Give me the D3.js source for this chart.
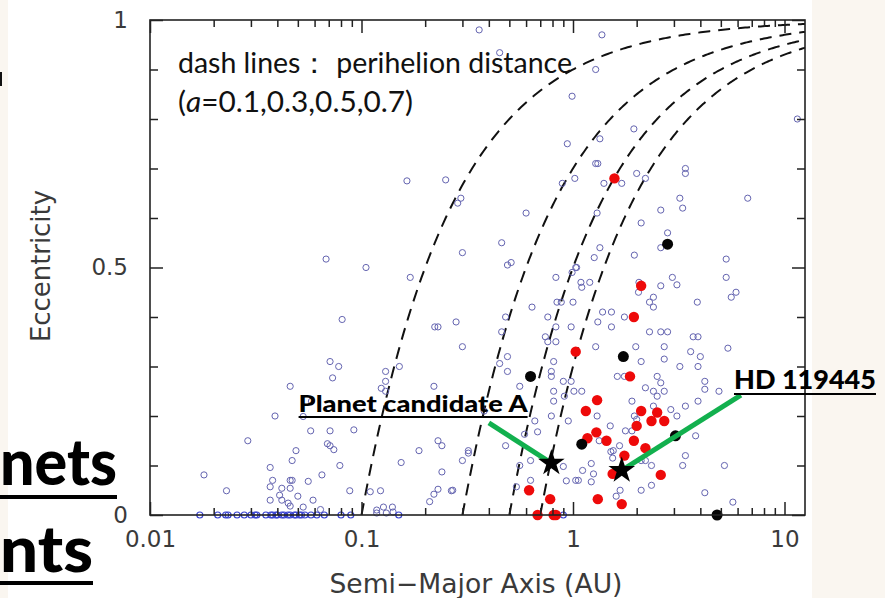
<!DOCTYPE html>
<html>
<head>
<meta charset="utf-8">
<script src="https://cdn.jsdelivr.net/npm/d3@7"></script>
<style>
  body { margin: 0; background: #fff; }
  svg { display: block; }
</style>
</head>
<body>
<div id="chart"></div>
<script>
// ---- data (semi-major axis a in AU, eccentricity e) ----
var blueOpen = [
  [0.105,0.50],[0.081,0.395],[0.071,0.31],[0.078,0.30],[0.073,0.277],[0.046,0.26],[0.039,0.20],[0.058,0.23],[0.053,0.199],[0.0575,0.17],
  [0.071,0.17],[0.092,0.172],[0.029,0.15],[0.069,0.144],[0.071,0.14],[0.074,0.132],[0.049,0.13],[0.047,0.11],[0.079,0.10],[0.037,0.096],
  [0.018,0.081],[0.065,0.081],[0.038,0.07],[0.046,0.07],[0.047,0.07],[0.056,0.068],[0.037,0.057],[0.042,0.054],[0.046,0.054],[0.023,0.049],
  [0.088,0.049],[0.041,0.04],[0.050,0.038],[0.037,0.03],[0.042,0.03],[0.059,0.03],[0.045,0.024],[0.046,0.018],[0.053,0.016],[0.064,0.011],
  [0.11,0.047],[0.123,0.049],[0.154,0.106],[0.187,0.13],[0.22,0.26],[0.222,0.38],[0.23,0.38],[0.13,0.29],[0.13,0.27],[0.124,0.256],
  [0.13,0.25],[0.151,0.30],[0.23,0.15],[0.24,0.14],[0.24,0.087],[0.23,0.052],[0.22,0.042],[0.21,0.027],[0.266,0.049],
  [0.118,0.01],[0.127,0.016],[0.14,0.016],[0.141,0.006],[0.118,0.004],[0.131,0.004],
  [0.17,0.48],[0.28,0.39],[0.30,0.34],[0.48,0.40],[0.46,0.37],[0.49,0.32],[0.45,0.306],[0.49,0.29],[0.64,0.42],[0.76,0.40],
  [0.84,0.43],[0.88,0.43],[0.83,0.48],[1.09,0.47],[1.1,0.46],[1.0,0.43],[0.83,0.38],[0.98,0.38],[0.74,0.36],[0.76,0.35],
  [0.83,0.35],[0.81,0.31],[0.79,0.29],[0.79,0.28],[0.90,0.27],[0.98,0.27],[0.56,0.26],[0.81,0.25],[0.91,0.24],[1.01,0.25],
  [1.1,0.25],[0.81,0.23],[0.79,0.20],[0.95,0.19],[0.66,0.19],[0.68,0.168],[0.59,0.163],[0.38,0.21],[0.32,0.13],[0.32,0.125],
  [0.30,0.11],[0.48,0.14],[0.63,0.11],[0.56,0.10],[0.90,0.098],[0.93,0.069],[1.03,0.07],[1.06,0.07],[1.11,0.09],[0.63,0.07],
  [0.54,0.057],[0.27,0.05],
  [0.36,0.98],[0.45,0.934],[0.99,0.846],[0.94,0.75],[1.02,0.68],[0.89,0.67],[0.60,0.61],[0.46,0.55],[0.30,0.53],[0.51,0.51],
  [0.49,0.505],[1.04,0.50],[0.164,0.675],[0.25,0.677],[0.295,0.64],[0.285,0.63],[0.068,0.517],
  [1.37,0.97],[1.28,0.90],[11.5,0.80],[1.94,0.78],[1.34,0.76],[1.28,0.71],[1.31,0.71],[1.40,0.67],[1.70,0.67],
  [2.0,0.69],[2.2,0.68],[3.4,0.70],[3.4,0.69],[6.7,0.64],[1.30,0.61],[2.6,0.616],[3.2,0.64],[3.3,0.62],[2.1,0.59],
  [2.8,0.57],[2.6,0.54],[1.34,0.54],[1.26,0.52],[1.95,0.525],[5.3,0.517],[1.03,0.50],[0.99,0.49],[1.2,0.47],[2.04,0.45],
  [2.05,0.47],[2.6,0.463],[3.1,0.465],[2.95,0.48],[2.3,0.43],[2.4,0.44],[2.4,0.42],[3.87,0.43],[5.3,0.48],[5.9,0.45],
  [5.6,0.44],[1.38,0.41],[1.52,0.41],[1.75,0.40],[1.31,0.39],[1.52,0.38],[1.28,0.34],[2.3,0.37],[2.6,0.37],[2.8,0.37],
  [1.98,0.34],[2.7,0.34],[3.7,0.36],[3.9,0.36],[5.4,0.337],[3.6,0.33],[4.0,0.32],[3.9,0.30],[2.1,0.31],[2.7,0.315],
  [3.2,0.30],[1.62,0.28],[1.75,0.28],[2.5,0.28],[2.6,0.267],[2.7,0.25],[2.4,0.25],[2.5,0.24],[2.2,0.257],[4.2,0.27],
  [4.2,0.254],[4.9,0.25],[3.9,0.23],[3.4,0.22],[2.9,0.213],[3.1,0.20],[1.9,0.23],[2.4,0.22],[1.30,0.20],[1.95,0.20],
  [2.0,0.193],[1.5,0.18],[1.77,0.17],[1.9,0.17],[1.33,0.15],[1.66,0.14],[1.55,0.13],[1.51,0.128],[1.54,0.115],[2.1,0.11],
  [2.2,0.11],[2.35,0.10],[3.4,0.12],[3.3,0.10],[5.2,0.10],[1.22,0.104],[1.25,0.083],[1.22,0.067],[1.67,0.05],[1.60,0.038],
  [2.1,0.05],[2.35,0.06],[4.2,0.045],[5.7,0.026],[3.8,0.16]
];

// circular orbits (e = 0), plotted along the bottom
var blueFlat = [0.0172,0.0209,0.0228,0.0234,0.0258,0.0279,0.030,0.0314,0.032,0.0353,0.0373,0.038,0.0394,0.040,0.042,
  0.043,0.0449,0.046,0.0482,0.049,0.0509,0.052,0.054,0.0577,0.0615,0.0667,0.08,0.089,0.15,0.90];

var redDots = [
  [1.57,0.68],[2.1,0.463],[1.94,0.40],[1.03,0.33],[1.86,0.28],[1.30,0.232],[1.15,0.21],[2.1,0.21],[2.5,0.207],
  [2.35,0.19],[2.7,0.19],[2.0,0.18],[1.29,0.167],[1.17,0.155],[1.44,0.15],[1.94,0.15],[2.2,0.135],[1.75,0.12],
  [1.54,0.083],[2.6,0.081],[0.62,0.05],[0.78,0.032],[1.31,0.032],[1.70,0.022],[0.68,0],[0.81,0],[0.83,0]
];

var blackDots = [[2.8,0.547],[0.63,0.28],[1.73,0.32],[1.10,0.143],[3.05,0.16],[4.8,0]];

var starLabels = ["Planet candidate A", "HD 119445"];
var starPos = [[0.79,0.105],[1.70,0.09]];
var labelPos = [[0.61,0.208],[5.77,0.2545]];   // text anchor points
var leaderEnd = [[0.40,0.186],[6.22,0.242]];   // green line ends

var perihelion = [0.1, 0.3, 0.5, 0.7];

var xMajor = [0.01, 0.1, 1, 10];
var xMajorLabels = ["0.01", "0.1", "1", "10"];
var yMajor = [0, 0.5, 1];
var yMajorLabels = ["0", "0.5", "1"];

// ---- layout ----
var W = 885, H = 598;
var margin = {top: 20, right: 80, bottom: 83, left: 150},
    width = W - margin.left - margin.right,
    height = H - margin.top - margin.bottom;

var svg = d3.select("#chart").append("svg")
    .attr("width", W)
    .attr("height", H);

// slide background pieces
svg.append("rect").attr("x", 0).attr("y", 0).attr("width", W).attr("height", H).attr("fill", "#fff");
svg.append("rect").attr("x", 0).attr("y", 0).attr("width", 8).attr("height", H).attr("fill", "#faf6f0");
svg.append("rect").attr("x", 812).attr("y", 0).attr("width", W - 812).attr("height", H).attr("fill", "#faf6f0");
svg.append("rect").attr("x", 0).attr("y", 72).attr("width", 2).attr("height", 14).attr("fill", "#111");

var g = svg.append("g")
    .attr("transform", "translate(" + margin.left + "," + margin.top + ")");

var x = d3.scaleLog().domain([0.01, 12.5]).range([0, width]);
var y = d3.scaleLinear().domain([0, 1]).range([height, 0]);

g.append("clipPath").attr("id", "plotclip")
  .append("rect").attr("width", width).attr("height", height);

// dashed perihelion curves e = 1 - q/a
var line = d3.line()
    .x(function(d) { return x(d[0]); })
    .y(function(d) { return y(d[1]); });

perihelion.forEach(function(q) {
  var pts = d3.range(0, 201).map(function(i) {
    var a = q * Math.pow(12.5 / q, i / 200);
    return [a, 1 - q / a];
  });
  g.append("path")
    .datum(pts)
    .attr("clip-path", "url(#plotclip)")
    .attr("d", line)
    .attr("fill", "none")
    .attr("stroke", "#111")
    .attr("stroke-width", 2)
    .attr("stroke-dasharray", "12,8");
});

// open circles
g.selectAll(".open")
  .data(blueOpen)
  .enter().append("circle")
    .attr("class", "open")
    .attr("cx", function(d) { return x(d[0]); })
    .attr("cy", function(d) { return y(d[1]); })
    .attr("r", 3.1)
    .attr("fill", "none")
    .attr("stroke", "#6464b0")
    .attr("stroke-width", 1);

g.selectAll(".flat")
  .data(blueFlat)
  .enter().append("circle")
    .attr("class", "flat")
    .attr("cx", function(d) { return x(d); })
    .attr("cy", y(0))
    .attr("r", 3)
    .attr("fill", "none")
    .attr("stroke", "#3a44d0")
    .attr("stroke-width", 1.2);

// red and black filled dots
g.selectAll(".red")
  .data(redDots)
  .enter().append("circle")
    .attr("cx", function(d) { return x(d[0]); })
    .attr("cy", function(d) { return y(d[1]); })
    .attr("r", 5.2)
    .attr("fill", "#ee0a0a");

g.selectAll(".black")
  .data(blackDots)
  .enter().append("circle")
    .attr("cx", function(d) { return x(d[0]); })
    .attr("cy", function(d) { return y(d[1]); })
    .attr("r", 5.5)
    .attr("fill", "#050505");

// frame
g.append("rect")
  .attr("width", width)
  .attr("height", height)
  .attr("fill", "none")
  .attr("stroke", "#222")
  .attr("stroke-width", 1.6);

// ticks (all pointing inward)
var xMinor = [];
[0.01, 0.1, 1].forEach(function(dec) {
  for (var k = 2; k <= 9; k++) xMinor.push(dec * k);
});
var yMinor = [0.1, 0.2, 0.3, 0.4, 0.6, 0.7, 0.8, 0.9];

function clean(sel) {
  sel.select(".domain").remove();
  sel.selectAll(".tick line").attr("stroke", "#222").attr("stroke-width", 1.5);
  sel.selectAll("text")
    .style("font-family", "'DejaVu Sans', sans-serif")
    .style("font-size", "23px")
    .attr("fill", "#3a3a3a");
}

g.append("g").attr("transform", "translate(0," + height + ")")
  .call(d3.axisBottom(x).tickValues(xMinor).tickSize(-7).tickFormat(""))
  .call(clean);
g.append("g").attr("transform", "translate(0," + height + ")")
  .call(d3.axisBottom(x).tickValues(xMajor).tickSize(-13).tickPadding(16)
    .tickFormat(function(d, i) { return xMajorLabels[i]; }))
  .call(clean);
g.append("g")
  .call(d3.axisTop(x).tickValues(xMinor).tickSize(-7).tickFormat(""))
  .call(clean);
g.append("g")
  .call(d3.axisTop(x).tickValues(xMajor).tickSize(-13).tickFormat(""))
  .call(clean);

g.append("g")
  .call(d3.axisLeft(y).tickValues(yMinor).tickSize(-8).tickFormat(""))
  .call(clean);
g.append("g")
  .call(d3.axisLeft(y).tickValues(yMajor).tickSize(-13).tickPadding(22)
    .tickFormat(function(d, i) { return yMajorLabels[i]; }))
  .call(clean);
g.append("g").attr("transform", "translate(" + width + ",0)")
  .call(d3.axisRight(y).tickValues(yMinor).tickSize(-8).tickFormat(""))
  .call(clean);
g.append("g").attr("transform", "translate(" + width + ",0)")
  .call(d3.axisRight(y).tickValues(yMajor).tickSize(-13).tickFormat(""))
  .call(clean);

// axis titles
svg.append("text")
  .attr("x", 476)
  .attr("y", 593)
  .attr("text-anchor", "middle")
  .attr("textLength", 293)
  .attr("lengthAdjust", "spacingAndGlyphs")
  .style("font-family", "'DejaVu Sans', sans-serif")
  .style("font-size", "27px")
  .attr("fill", "#3a3a3a")
  .text("Semi\u2212Major Axis (AU)");

svg.append("text")
  .attr("transform", "translate(50,266) rotate(-90)")
  .attr("text-anchor", "middle")
  .attr("textLength", 152)
  .attr("lengthAdjust", "spacingAndGlyphs")
  .style("font-family", "'DejaVu Sans', sans-serif")
  .style("font-size", "27px")
  .attr("fill", "#3a3a3a")
  .text("Eccentricity");

// note on dashed lines
g.append("text")
  .attr("x", 28)
  .attr("y", 53)
  .attr("textLength", 394)
  .attr("lengthAdjust", "spacingAndGlyphs")
  .style("font-family", "Lato, 'Noto Sans', sans-serif")
  .style("font-size", "29px")
  .attr("fill", "#111")
  .text("dash lines\uff1a perihelion distance");

var note2 = g.append("text")
  .attr("x", 28)
  .attr("y", 92)
  .attr("textLength", 235)
  .attr("lengthAdjust", "spacingAndGlyphs")
  .style("font-family", "Lato, 'Noto Sans', sans-serif")
  .style("font-size", "29px")
  .attr("fill", "#111");
note2.append("tspan").text("(");
note2.append("tspan").style("font-style", "italic").text("a");
note2.append("tspan").text("=0.1,0.3,0.5,0.7)");

// green leader lines, stars and labels
starPos.forEach(function(s, i) {
  g.append("line")
    .attr("x1", x(leaderEnd[i][0]))
    .attr("y1", y(leaderEnd[i][1]))
    .attr("x2", x(s[0]))
    .attr("y2", y(s[1]))
    .attr("stroke", "#12b04e")
    .attr("stroke-width", 5);
});

g.selectAll(".star")
  .data(starPos)
  .enter().append("path")
    .attr("d", d3.symbol().type(d3.symbolStar).size(220))
    .attr("transform", function(d) { return "translate(" + x(d[0]) + "," + y(d[1]) + ")"; })
    .attr("fill", "#000");

var labelSize = [23, 27];
var labelLen = [229, 142];
starLabels.forEach(function(t, i) {
  var anchor = i === 0 ? "end" : "start";
  var tx = x(labelPos[i][0]), ty = y(labelPos[i][1]);
  g.append("text")
    .attr("x", tx)
    .attr("y", ty)
    .attr("text-anchor", anchor)
    .attr("textLength", labelLen[i])
    .attr("lengthAdjust", "spacingAndGlyphs")
    .style("font-family", "Lato, 'Noto Sans', sans-serif")
    .style("font-size", labelSize[i] + "px")
    .style("font-weight", "900")
    .attr("fill", "#000")
    .text(t);
  var x0 = anchor === "end" ? tx - labelLen[i] : tx;
  g.append("line")
    .attr("x1", x0).attr("x2", x0 + labelLen[i])
    .attr("y1", ty + 5).attr("y2", ty + 5)
    .attr("stroke", "#000")
    .attr("stroke-width", 2);
});

// leftover slide heading fragments
var frags = [["nets", 117, 485, 497], ["nts", 93, 572, 583]];
frags.forEach(function(f) {
  svg.append("text")
    .attr("x", 0)
    .attr("y", f[2])
    .attr("textLength", f[1])
    .attr("lengthAdjust", "spacingAndGlyphs")
    .style("font-family", "Lato, 'Open Sans', sans-serif")
    .style("font-size", "64px")
    .style("font-weight", "900")
    .attr("fill", "#000")
    .text(f[0]);
  svg.append("rect")
    .attr("x", 0).attr("y", f[3] - 2)
    .attr("width", f[1]).attr("height", 4)
    .attr("fill", "#000");
});
</script>
</body>
</html>
